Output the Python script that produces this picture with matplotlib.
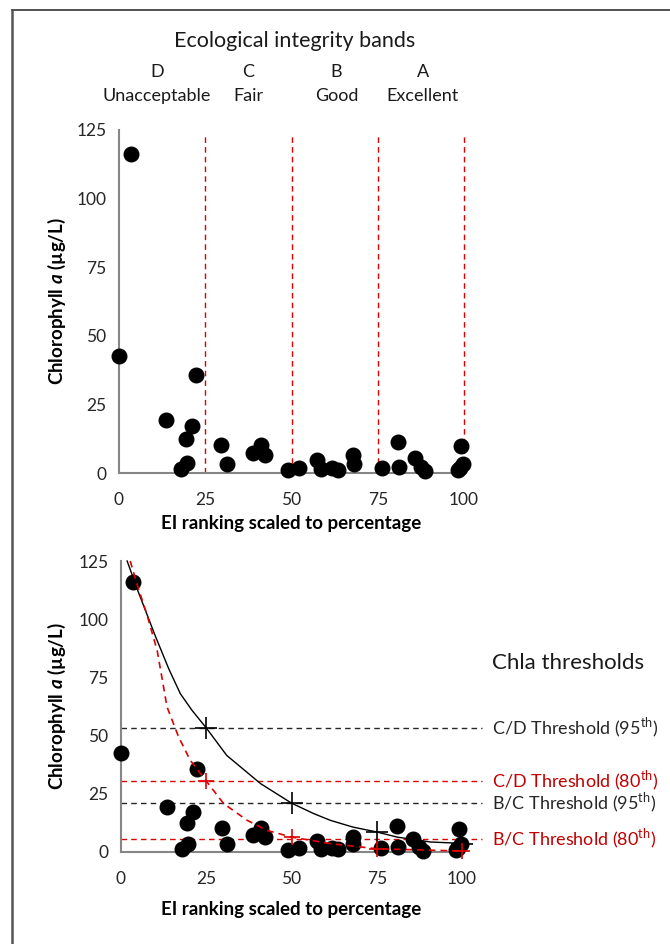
import matplotlib
matplotlib.use("Agg")
import matplotlib.pyplot as plt
from matplotlib.lines import Line2D

plt.rcParams["font.family"] = ["Lato", "DejaVu Sans"]
plt.rcParams["mathtext.fontset"] = "custom"
plt.rcParams["mathtext.rm"] = "Lato"
plt.rcParams["mathtext.it"] = "Lato:bold:italic"
plt.rcParams["mathtext.bf"] = "Lato:bold"

# sites: EI ranking (%) vs chlorophyll a (ug/L)
ei_rank = [0.0, 3.4, 13.6, 18.0, 19.4, 19.6, 21.2, 22.4, 29.7, 31.2,
           38.7, 41.1, 42.3, 49.1, 52.1, 57.5, 58.6, 61.8, 63.5, 67.9,
           68.1, 76.1, 80.9, 81.1, 85.7, 87.4, 88.6, 98.3, 98.7, 99.2, 99.7]
chla = [42.5, 116.1, 19.4, 1.5, 12.5, 3.6, 17.2, 35.6, 10.2, 3.3,
        7.2, 10.3, 6.6, 1.0, 1.8, 4.9, 1.5, 1.8, 1.2, 6.4,
        3.3, 1.8, 11.2, 2.1, 5.6, 2.1, 0.6, 1.0, 1.8, 9.7, 3.3]

# band boundaries and labels
band_edges = [25, 50, 75, 100]
band_x = [11, 37.5, 63, 88]
band_letters = ["D", "C", "B", "A"]
band_names = ["Unacceptable", "Fair", "Good", "Excellent"]

# fitted curves
curve95_x = [1.8, 5, 10, 14, 17.4, 20.8, 25, 31, 40.9, 50, 56.5, 61.4, 68, 75, 81, 90.7, 100]
curve95_y = [125, 112, 93, 78.7, 68, 60.9, 53.3, 41.5, 29.4, 21, 16.5, 13.6, 10.7, 8.6, 6.4, 4.3, 3.7]
curve80_x = [2.7, 4.7, 7.6, 10.6, 13.5, 16.9, 20.3, 25, 30.1, 37, 42.8, 50, 61.4, 75, 100]
curve80_y = [125, 115, 102, 86.6, 62.3, 49.4, 39.4, 30.5, 20.8, 13.6, 9.3, 6.4, 3.6, 1.4, 0.4]

# crosses on curves at quartiles
cross_x = [25, 50, 75, 100]
cross95_y = [53.3, 21.0, 8.6, 3.6]
cross80_y = [30.5, 6.4, 1.4, 0.4]

# thresholds
thr_values = [53.3, 30.5, 21.0, 5.7]
thr_labels = [r"C/D Threshold (95$^{\mathrm{th}}$)", r"C/D Threshold (80$^{\mathrm{th}}$)",
              r"B/C Threshold (95$^{\mathrm{th}}$)", r"B/C Threshold (80$^{\mathrm{th}}$)"]
thr_colors = ["#262626", "#c00000", "#262626", "#c00000"]
thr_lines = ["#262626", "#e00000", "#262626", "#e00000"]

red = "#e00000"
spine_col = "#868686"
ylab = r"Chlorophyll $a$ (µg/L)"
xlab = "EI ranking scaled to percentage"


def style_axes(ax, xlab_y, ylab_x):
    ax.set_xlim(0, 100)
    ax.set_ylim(0, 125)
    ax.set_xticks([0, 25, 50, 75, 100])
    ax.set_yticks([0, 25, 50, 75, 100, 125])
    for s in ["top", "right"]:
        ax.spines[s].set_visible(False)
    for s in ["left", "bottom"]:
        ax.spines[s].set_color(spine_col)
        ax.spines[s].set_linewidth(1.5)
    ax.tick_params(length=0, labelsize=12.5, colors="#262626")
    ax.tick_params(axis="x", pad=14)
    ax.tick_params(axis="y", pad=9)
    ax.set_xlabel(xlab, fontsize=13.5, fontweight="bold")
    ax.set_ylabel(ylab, fontsize=13.5, fontweight="bold")
    ax.xaxis.set_label_coords(0.5, xlab_y)
    ax.yaxis.set_label_coords(ylab_x, 0.5)


fig = plt.figure(figsize=(6.7, 9.44), dpi=100)

# frame lines (top and left edge)
fig.add_artist(Line2D([12 / 670, 1], [1 - 10 / 944] * 2, color="#333333", lw=1.2))
fig.add_artist(Line2D([12 / 670] * 2, [0, 1 - 10 / 944], color="#555555", lw=1.8))

# top panel
ax1 = fig.add_axes([119 / 670, 1 - 473 / 944, 345 / 670, 343 / 944])
style_axes(ax1, -0.123, -0.148)
for xe in band_edges:
    ax1.plot([xe, xe], [0, 124], color=red, lw=1, ls=(0, (4, 3)), zorder=1, clip_on=False)
ax1.scatter(ei_rank, chla, s=110, color="black", zorder=3, clip_on=False)

ax1.text(51, 1.26, "Ecological integrity bands", transform=ax1.get_xaxis_transform(),
         ha="center", va="center", fontsize=15.5, color="#1a1a1a")
for bx, bl, bn in zip(band_x, band_letters, band_names):
    ax1.text(bx, 1.168, bl, transform=ax1.get_xaxis_transform(), ha="center", va="center",
             fontsize=13, color="#1a1a1a")
    ax1.text(bx, 1.1, bn, transform=ax1.get_xaxis_transform(), ha="center", va="center",
             fontsize=13, color="#1a1a1a")

# bottom panel
ax2 = fig.add_axes([121 / 670, 1 - 852 / 944, 341 / 670, 291 / 944])
style_axes(ax2, -0.168, -0.155)
for tv, lc in zip(thr_values, thr_lines):
    ax2.plot([0, 106], [tv, tv], color=lc, lw=1, ls=(0, (4, 3)), zorder=1, clip_on=False)
ax2.scatter(ei_rank, chla, s=110, color="black", zorder=3, clip_on=False)
ax2.plot(curve95_x, curve95_y, color="black", lw=1, zorder=4, clip_on=False)
ax2.plot(curve80_x, curve80_y, color=red, lw=1.2, ls=(0, (4, 3)), zorder=4, clip_on=False)
ax2.plot(cross_x, cross95_y, ls="none", marker="+", ms=16, mew=1.2, color="black", zorder=5, clip_on=False)
ax2.plot(cross_x, cross80_y, ls="none", marker="+", ms=11, mew=1.2, color=red, zorder=5, clip_on=False)

ax2.text(108.8, 81, "Chla thresholds", fontsize=16, ha="left", va="center", color="#1a1a1a")
for tv, tl, tc in zip(thr_values, thr_labels, thr_colors):
    ax2.text(108.8, tv, tl, fontsize=13, ha="left", va="center", color=tc)

fig.savefig("out.png", dpi=100)
